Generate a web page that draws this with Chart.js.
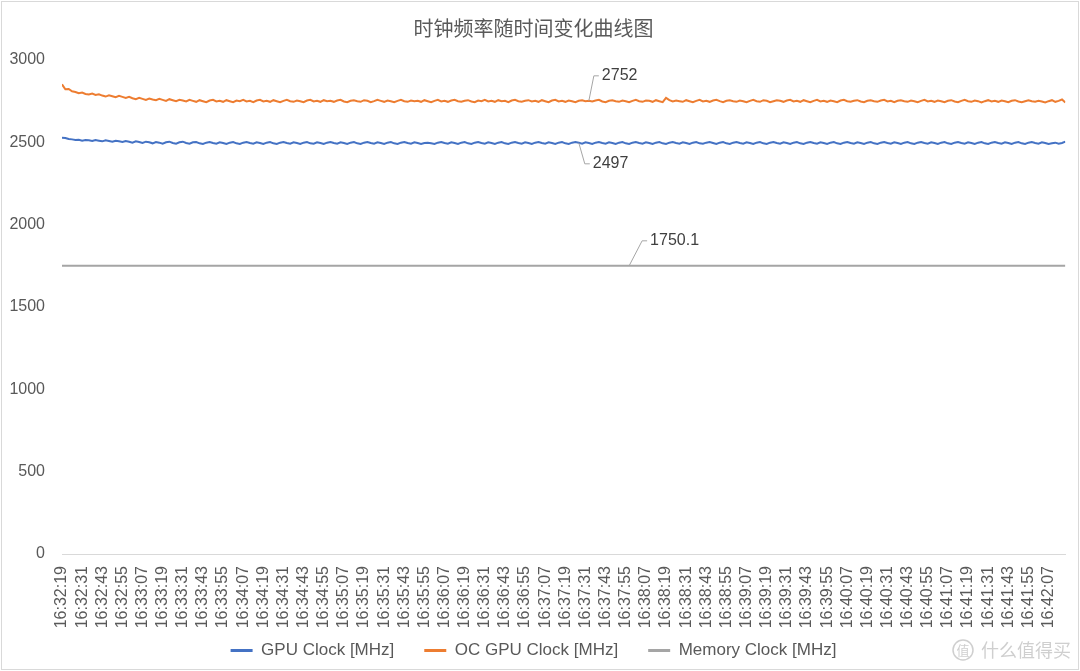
<!DOCTYPE html>
<html>
<head>
<meta charset="utf-8">
<title>时钟频率随时间变化曲线图</title>
<script src="https://cdn.jsdelivr.net/npm/chart.js@4"></script>
<style>
    html, body { margin: 0; padding: 0; background: #fff; }
    #wrap { width: 1080px; height: 671px; position: relative; }
</style>
</head>
<body>
<div id="wrap"><canvas id="chart"></canvas></div>
<script>
// x axis tick labels, one every 12 s
const tickLabels = ['16:32:19','16:32:31','16:32:43','16:32:55','16:33:07','16:33:19','16:33:31','16:33:43','16:33:55',
    '16:34:07','16:34:19','16:34:31','16:34:43','16:34:55','16:35:07','16:35:19','16:35:31','16:35:43','16:35:55',
    '16:36:07','16:36:19','16:36:31','16:36:43','16:36:55','16:37:07','16:37:19','16:37:31','16:37:43','16:37:55',
    '16:38:07','16:38:19','16:38:31','16:38:43','16:38:55','16:39:07','16:39:19','16:39:31','16:39:43','16:39:55',
    '16:40:07','16:40:19','16:40:31','16:40:43','16:40:55','16:41:07','16:41:19','16:41:31','16:41:43','16:41:55',
    '16:42:07'];
const tickStep = 12;    // seconds between labels
const sampleStep = 2;   // seconds between samples below

// GPU Clock [MHz], one sample every 2 s
const gpuClock = [
    2528,2526,2520,2518,2514,2516,2510,2514,2512,2508,2514,2510,2506,2512,2508,2504,2510,2506,2502,2508,
    2504,2498,2506,2502,2496,2504,2500,2494,2502,2498,2492,2500,2504,2496,2492,2500,2504,2496,2492,2500,
    2502,2494,2490,2498,2502,2496,2492,2500,2496,2490,2498,2502,2494,2490,2498,2502,2496,2492,2500,2496,
    2490,2498,2502,2494,2490,2498,2502,2496,2492,2500,2496,2490,2498,2502,2494,2492,2500,2496,2490,2498,
    2502,2496,2492,2500,2496,2490,2498,2502,2494,2490,2498,2502,2496,2492,2500,2496,2490,2498,2502,2494,
    2490,2498,2502,2496,2492,2500,2496,2490,2496,2498,2494,2490,2498,2502,2496,2492,2500,2496,2490,2498,
    2502,2494,2490,2498,2502,2496,2492,2500,2496,2490,2498,2502,2494,2490,2498,2502,2496,2492,2500,2496,
    2490,2498,2502,2496,2492,2500,2496,2490,2498,2502,2494,2490,2498,2502,2497,2492,2500,2496,2490,2498,
    2502,2496,2492,2500,2496,2490,2498,2502,2494,2490,2498,2502,2496,2492,2500,2496,2490,2498,2502,2494,
    2490,2498,2502,2496,2492,2500,2496,2490,2498,2502,2494,2492,2498,2502,2496,2490,2498,2502,2494,2490,
    2498,2502,2496,2492,2500,2496,2490,2498,2502,2494,2490,2498,2502,2496,2492,2500,2496,2490,2498,2502,
    2494,2490,2498,2502,2496,2492,2500,2496,2490,2498,2502,2494,2490,2498,2502,2496,2492,2500,2496,2490,
    2498,2502,2494,2490,2498,2502,2496,2492,2500,2496,2490,2498,2502,2494,2490,2498,2502,2496,2492,2500,
    2496,2490,2498,2502,2494,2490,2498,2502,2496,2492,2500,2496,2490,2498,2502,2494,2490,2498,2502,2496,
    2492,2500,2496,2490,2498,2502,2494,2490,2498,2502,2496,2492,2500,2496,2490,2494,2498,2492,2496,2504
];

// OC GPU Clock [MHz], one sample every 2 s
const ocGpuClock = [
    2852,2822,2824,2810,2806,2798,2802,2794,2790,2796,2788,2792,2784,2778,2786,2780,2774,2782,2776,2770,
    2776,2768,2762,2770,2764,2758,2766,2760,2756,2764,2758,2752,2762,2756,2750,2758,2754,2748,2758,2752,
    2746,2756,2750,2744,2754,2758,2748,2752,2746,2756,2750,2744,2754,2750,2758,2748,2752,2744,2754,2758,
    2748,2752,2746,2756,2750,2744,2752,2758,2750,2746,2754,2750,2744,2754,2758,2748,2752,2746,2756,2750,
    2752,2746,2754,2758,2748,2744,2752,2756,2750,2746,2756,2752,2744,2750,2758,2752,2746,2754,2750,2744,
    2752,2758,2750,2746,2754,2750,2752,2746,2756,2750,2744,2752,2758,2748,2752,2746,2754,2758,2750,2746,
    2752,2756,2748,2744,2754,2750,2758,2748,2752,2746,2756,2750,2752,2744,2754,2758,2750,2746,2752,2756,
    2748,2752,2746,2756,2750,2744,2754,2758,2748,2752,2746,2754,2750,2744,2752,2756,2750,2752,2748,2754,
    2758,2748,2744,2752,2756,2750,2746,2754,2750,2744,2752,2758,2750,2746,2754,2752,2746,2756,2750,2744,
    2770,2756,2748,2754,2750,2746,2756,2750,2744,2752,2758,2748,2752,2746,2754,2758,2750,2744,2752,2756,
    2750,2746,2754,2750,2744,2752,2758,2750,2746,2756,2752,2744,2750,2756,2752,2746,2754,2758,2748,2752,
    2746,2756,2750,2744,2752,2758,2748,2752,2746,2754,2750,2744,2754,2758,2750,2746,2752,2756,2748,2744,
    2752,2756,2750,2746,2754,2758,2748,2752,2744,2752,2756,2750,2746,2754,2750,2744,2752,2758,2748,2752,
    2746,2754,2750,2744,2752,2756,2748,2744,2752,2758,2750,2746,2754,2750,2742,2750,2756,2748,2752,2746,
    2754,2750,2744,2752,2756,2748,2744,2750,2756,2750,2746,2752,2748,2742,2750,2756,2746,2752,2760,2742
];

// Memory Clock [MHz] stays flat for the whole run
const memTimes = [0, 598];
const memClock = [1750.1, 1750.1];

// value callouts: time (s), value, leader offset
const callouts = [
    { ds: 1, t: 314, v: 2752, dx: 5, dy: -25 },
    { ds: 0, t: 308, v: 2497, dx: 6, dy: 21 },
    { ds: 2, t: 338, v: 1750.1, dx: 13, dy: -25 }
];

const colors = ['#4472C4', '#ED7D31', '#A5A5A5'];
const latin = '"Liberation Sans", Arial, sans-serif';

const toPoints = (arr) => arr.map((v, i) => ({ x: i * sampleStep, y: v }));

// frame + white background
const framePlugin = {
    id: 'frame',
    beforeDraw(chart) {
        const { ctx, width, height } = chart;
        ctx.save();
        ctx.fillStyle = '#fff';
        ctx.fillRect(0, 0, width, height);
        ctx.restore();
    },
    afterDraw(chart) {
        const { ctx, width, height } = chart;
        ctx.save();
        ctx.strokeStyle = '#d9d9d9';
        ctx.lineWidth = 1;
        ctx.strokeRect(1.5, 1.5, width - 3, height - 3);

        // watermark bottom right
        ctx.fillStyle = '#cfcfcf';
        ctx.strokeStyle = '#cfcfcf';
        ctx.lineWidth = 1.5;
        ctx.beginPath();
        ctx.arc(963, 650, 10, 0, Math.PI * 2);
        ctx.stroke();
        ctx.font = '13px "Noto Sans CJK SC"';
        ctx.textAlign = 'center';
        ctx.textBaseline = 'middle';
        ctx.fillText('值', 963, 650);
        ctx.font = '18px "Noto Sans CJK SC"';
        ctx.textAlign = 'right';
        ctx.fillText('什么值得买', 1071, 650);
        ctx.restore();
    }
};

const calloutPlugin = {
    id: 'callouts',
    afterDatasetsDraw(chart) {
        const { ctx, scales: { x, y } } = chart;
        ctx.save();
        ctx.strokeStyle = '#a6a6a6';
        ctx.lineWidth = 1;
        ctx.fillStyle = '#404040';
        ctx.font = '16px ' + latin;
        ctx.textAlign = 'left';
        ctx.textBaseline = 'middle';
        callouts.forEach(c => {
            const px = x.getPixelForValue(c.t);
            const py = y.getPixelForValue(c.v);
            const ex = px + c.dx, ey = py + c.dy;
            ctx.beginPath();
            ctx.moveTo(px, py);
            ctx.lineTo(ex, ey);
            ctx.lineTo(ex + 5, ey);
            ctx.stroke();
            ctx.fillText(String(c.v), ex + 8, ey);
        });
        ctx.restore();
    }
};

new Chart(document.getElementById('chart'), {
    type: 'line',
    data: {
        datasets: [
            { label: 'GPU Clock [MHz]', data: toPoints(gpuClock), borderColor: colors[0], backgroundColor: colors[0] },
            { label: 'OC GPU Clock [MHz]', data: toPoints(ocGpuClock), borderColor: colors[1], backgroundColor: colors[1] },
            { label: 'Memory Clock [MHz]', data: memTimes.map((t, i) => ({ x: t, y: memClock[i] })), borderColor: colors[2], backgroundColor: colors[2] }
        ]
    },
    options: {
        responsive: true,
        maintainAspectRatio: false,
        animation: false,
        elements: {
            point: { radius: 0, hoverRadius: 0 },
            line: { borderWidth: 2, tension: 0 }
        },
        layout: { padding: { left: 0, right: 13, bottom: 2 } },
        plugins: {
            title: {
                display: true,
                text: '时钟频率随时间变化曲线图',
                color: '#595959',
                font: { family: '"Noto Sans CJK SC", sans-serif', size: 20, weight: 'normal' },
                padding: { top: 16, bottom: 20 }
            },
            legend: {
                position: 'bottom',
                labels: {
                    boxWidth: 22,
                    boxHeight: 3,
                    padding: 30,
                    color: '#595959',
                    font: { family: latin, size: 17 },
                    generateLabels(chart) {
                        return Chart.defaults.plugins.legend.labels.generateLabels(chart)
                            .map(l => Object.assign(l, { lineWidth: 0 }));
                    }
                }
            },
            tooltip: { enabled: false }
        },
        scales: {
            x: {
                type: 'linear',
                min: 0,
                max: 598,
                afterBuildTicks(scale) {
                    scale.ticks = tickLabels.map((l, i) => ({ value: i * tickStep }));
                },
                // labels hang down into the legend's top padding, like the original
                afterFit(scale) {
                    scale.height = 58;
                    scale._computeLabelArea = () => undefined;
                },
                grid: { display: false, drawTicks: false },
                border: { display: true, color: '#d9d9d9', width: 1 },
                ticks: {
                    autoSkip: false,
                    minRotation: 90,
                    maxRotation: 90,
                    padding: 12,
                    color: '#595959',
                    font: { family: latin, size: 16 },
                    callback: (v, i) => tickLabels[i]
                }
            },
            y: {
                min: 0,
                max: 3000,
                afterFit(scale) { scale.width = 62; },
                grid: { display: false, drawTicks: false },
                border: { display: false },
                ticks: {
                    stepSize: 500,
                    padding: 17,
                    color: '#595959',
                    font: { family: latin, size: 16 },
                    callback: (v) => String(v)
                }
            }
        }
    },
    plugins: [framePlugin, calloutPlugin]
});
</script>
</body>
</html>
